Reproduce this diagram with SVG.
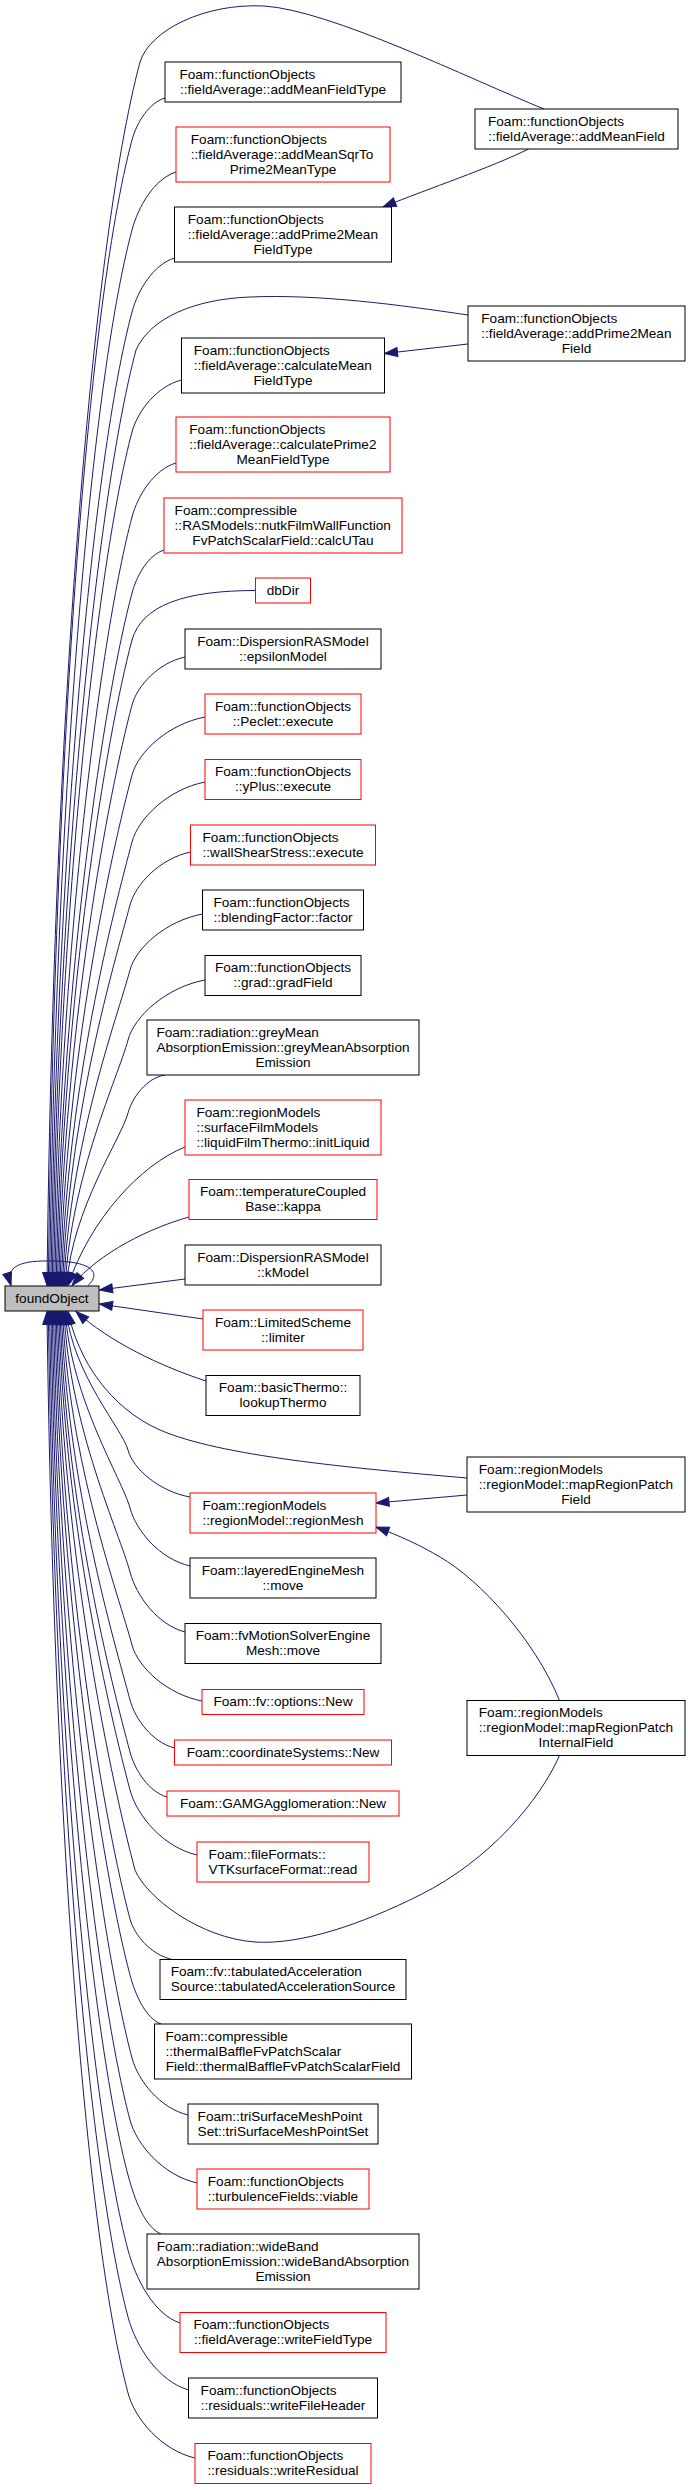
<svg xmlns="http://www.w3.org/2000/svg" width="688" height="2490" viewBox="0 0 688 2490">
<style>
.b{fill:#fff;stroke:#000;stroke-width:1}
.r{fill:#fff;stroke:#f00;stroke-width:1}
.g{fill:#bfbfbf;stroke:#000;stroke-width:1}
text{font-family:"Liberation Sans",Arial,Helvetica,sans-serif;font-size:13.6px;fill:#000}
.m{text-anchor:middle}
#edges path{fill:none;stroke:#191970;stroke-width:1;marker-end:url(#ah)}
</style>
<defs>
<marker id="ah" markerUnits="userSpaceOnUse" markerWidth="14" markerHeight="10" refX="13" refY="4.5" orient="auto" overflow="visible">
<path d="M0,0 L13,4.5 L0,9 z" fill="#191970" stroke="#191970" stroke-width="1"/>
</marker>
</defs>
<rect width="688" height="2490" fill="#fff"/>
<g id="edges">
<path d="M544,109 C470,79 330,10 264,6 C205,3 150,30 140,62 C91.1,245.5 53,735 47,1285.5"/>
<path d="M165,98 C148.5,103 136.5,123.2 132,140 C86.2,311.8 54.3,770 48.3,1285.5"/>
<path d="M176,172 C154,179 138.2,206.8 132,230 C89.8,388.3 55.6,810.5 49.6,1285.5"/>
<path d="M174.5,258 C153.3,264.5 137.8,290.4 132,312 C93.1,458 56.9,847.4 50.9,1285.5"/>
<path d="M468,315 C400,305 320,294 250,297 C195,299 150,318 136,350 C98.6,490.3 58.2,864.5 52.2,1285.5"/>
<path d="M181.5,380 C156.8,386.2 137.6,411.2 132,432 C97.9,560 59.5,901.4 53.5,1285.5"/>
<path d="M176,463 C154,469.5 137.8,495.4 132,517 C101.3,632.3 60.8,939.7 54.8,1285.5"/>
<path d="M164,550 C148,555.2 136.6,575.8 132,593 C104.3,696.9 62.1,973.9 56.1,1285.5"/>
<path d="M255.5,590.5 C185,590.5 142,605 132,640 C106.2,736.8 63.4,995 57.4,1285.5"/>
<path d="M185,657 C158.5,662.8 137.1,685.8 132,705 C108.8,792.1 64.7,1024.3 58.7,1285.5"/>
<path d="M205,717 C168.5,724 138.2,751.8 132,775 C111.6,851.6 66,1055.8 60,1285.5"/>
<path d="M205,782 C168.5,789.2 138.4,818 132,842 C114.3,908.5 67.3,1085.9 61.3,1285.5"/>
<path d="M190.5,852 C160.3,858.4 135.7,883.8 130,905 C114.8,962.1 68.6,1114.3 62.6,1285.5"/>
<path d="M202.5,914 C166.3,920.7 136,947.6 130,970 C117.4,1017.3 69.9,1143.5 63.9,1285.5"/>
<path d="M205,980 C166.5,987.2 134.4,1016 128,1040 C118.2,1076.8 71.2,1175 65.2,1285.5"/>
<path d="M165,1075 C146.5,1077.8 132.1,1097.8 128,1113 C121.1,1138.9 72.5,1207.9 66.5,1285.5"/>
<path d="M185,1147 C140,1165 90,1220 68,1285.5"/>
<path d="M189,1217 C150,1228 100,1252 72,1285.5"/>
<path d="M185,1279 L99.5,1290"/>
<path d="M88,1285.5 C99,1276 98,1262 55,1261 C20,1260 5,1266 11,1285.5"/>
<path d="M203,1319 L99.5,1304"/>
<path d="M206,1381 C160,1366 110,1342 76,1311.5"/>
<path d="M467,1478 C350,1468 220,1456 160,1430 C110,1408 78,1360 68,1311.5"/>
<path d="M190,1497 C159,1491.4 133,1468.8 128,1450 C122.5,1429.2 72.5,1373.8 66.5,1311.5"/>
<path d="M190,1566 C160,1559 136.2,1531.2 130,1508 C122.1,1479 71.2,1399.9 65.2,1311.5"/>
<path d="M185,1632 C157.5,1624.8 136.4,1596 130,1572 C119.6,1532.9 69.9,1428.7 63.9,1311.5"/>
<path d="M202,1701 C167,1694.3 138,1667.4 132,1645 C118.7,1595 68.6,1461.6 62.6,1311.5"/>
<path d="M174.5,1748 C152.3,1742.2 135.1,1719.2 130,1700 C114.5,1641.7 67.3,1486.3 61.3,1311.5"/>
<path d="M167,1797 C148.5,1791.6 134.8,1770 130,1752 C112.4,1685.9 66,1509.7 60,1311.5"/>
<path d="M197,1855 C163.5,1847.2 136.9,1816 130,1790 C110.9,1718.2 64.7,1526.8 58.7,1311.5"/>
<path d="M559.5,1755.5 C540,1800 490,1860 420,1895 C360,1925 300,1945 255,1942 C200,1938 147,1898 135,1870 C112.7,1786.2 63.4,1562.8 57.4,1311.5"/>
<path d="M172,1959.5 C151,1954.6 134.3,1935.2 130,1919 C105.7,1827.9 62.1,1584.9 56.1,1311.5"/>
<path d="M161,2024 C145.5,2018.1 135.2,1994.6 130,1975 C103.5,1875.5 60.8,1610.1 54.8,1311.5"/>
<path d="M188,2115 C160,2108.2 138.1,2080.8 132,2058 C102.1,1946 59.5,1647.4 53.5,1311.5"/>
<path d="M197,2183 C163.5,2175.4 136.7,2145.2 130,2120 C97.7,1998.7 58.2,1675.3 52.2,1311.5"/>
<path d="M161,2234 C144.5,2226.9 134.3,2198.6 128,2175 C93.5,2045.5 56.9,1700.1 50.9,1311.5"/>
<path d="M180,2323 C154,2314.2 135.8,2279.2 128,2250 C90.5,2109.2 55.6,1733.8 49.6,1311.5"/>
<path d="M188.5,2390 C158.3,2381.2 135.8,2346.2 128,2317 C87.8,2166.2 54.3,1764 48.3,1311.5"/>
<path d="M195,2458 C161.5,2450.2 134.9,2419 128,2393 C84.7,2230.8 53,1798.2 47,1311.5"/>
<path d="M528.6,149 C490,168 430,188 383,207"/>
<path d="M468,344 L384.5,353.5"/>
<path d="M467,1495 L376,1503"/>
<path d="M559.5,1700.5 C535,1640 480,1580 440,1557 C420,1545 400,1536 376,1527"/>
</g>
<g id="n_foundObject"><rect class="g" x="5" y="1286" width="94" height="25"/><text class="m" x="52" y="1302.8">foundObject</text></g>
<g id="n_addMeanFieldType"><rect class="b" x="165" y="62" width="236" height="40"/><text x="179.4" y="78.8">Foam::functionObjects</text><text class="m" x="283" y="93.8">::fieldAverage::addMeanFieldType</text></g>
<g id="n_addMeanSqrToPrime2MeanType"><rect class="r" x="176" y="127" width="214" height="55"/><text x="190.8" y="143.8">Foam::functionObjects</text><text x="190.8" y="158.8">::fieldAverage::addMeanSqrTo</text><text class="m" x="283" y="173.8">Prime2MeanType</text></g>
<g id="n_addMeanField"><rect class="b" x="475" y="109" width="203" height="40"/><text x="488" y="125.8">Foam::functionObjects</text><text class="m" x="576.5" y="140.8">::fieldAverage::addMeanField</text></g>
<g id="n_addPrime2MeanFieldType"><rect class="b" x="174.5" y="207" width="217" height="55"/><text x="187.8" y="223.8">Foam::functionObjects</text><text x="187.8" y="238.8">::fieldAverage::addPrime2Mean</text><text class="m" x="283" y="253.8">FieldType</text></g>
<g id="n_addPrime2MeanField"><rect class="b" x="468" y="306" width="217" height="55"/><text x="481.3" y="322.8">Foam::functionObjects</text><text x="481.3" y="337.8">::fieldAverage::addPrime2Mean</text><text class="m" x="576.5" y="352.8">Field</text></g>
<g id="n_calculateMeanFieldType"><rect class="b" x="181.5" y="338" width="203" height="55"/><text x="193.8" y="354.8">Foam::functionObjects</text><text x="193.8" y="369.8">::fieldAverage::calculateMean</text><text class="m" x="283" y="384.8">FieldType</text></g>
<g id="n_calculatePrime2MeanFieldType"><rect class="r" x="176" y="417" width="214" height="55"/><text x="189.3" y="433.8">Foam::functionObjects</text><text x="189.3" y="448.8">::fieldAverage::calculatePrime2</text><text class="m" x="283" y="463.8">MeanFieldType</text></g>
<g id="n_calcUTau"><rect class="r" x="164" y="498" width="238" height="55"/><text x="174.6" y="514.8">Foam::compressible</text><text x="174.6" y="529.8">::RASModels::nutkFilmWallFunction</text><text class="m" x="283" y="544.8">FvPatchScalarField::calcUTau</text></g>
<g id="n_dbDir"><rect class="r" x="255.5" y="578" width="55" height="25"/><text class="m" x="283" y="594.8">dbDir</text></g>
<g id="n_epsilonModel"><rect class="b" x="185" y="629" width="196" height="40"/><text x="197.2" y="645.8">Foam::DispersionRASModel</text><text class="m" x="283" y="660.8">::epsilonModel</text></g>
<g id="n_Peclet_execute"><rect class="r" x="205" y="694" width="156" height="40"/><text x="215" y="710.8">Foam::functionObjects</text><text class="m" x="283" y="725.8">::Peclet::execute</text></g>
<g id="n_yPlus_execute"><rect class="r" x="205" y="759.5" width="156" height="40"/><text x="215" y="776.3">Foam::functionObjects</text><text class="m" x="283" y="791.3">::yPlus::execute</text></g>
<g id="n_wallShearStress_execute"><rect class="r" x="190.5" y="825" width="185" height="40"/><text x="202.5" y="841.8">Foam::functionObjects</text><text class="m" x="283" y="856.8">::wallShearStress::execute</text></g>
<g id="n_blendingFactor_factor"><rect class="b" x="202.5" y="890" width="161" height="40"/><text x="213.5" y="906.8">Foam::functionObjects</text><text class="m" x="283" y="921.8">::blendingFactor::factor</text></g>
<g id="n_grad_gradField"><rect class="b" x="205" y="955.5" width="156" height="40"/><text x="215" y="972.3">Foam::functionObjects</text><text class="m" x="283" y="987.3">::grad::gradField</text></g>
<g id="n_greyMeanAbsorptionEmission"><rect class="b" x="147" y="1020" width="272" height="55"/><text x="156.4" y="1036.8">Foam::radiation::greyMean</text><text x="156.4" y="1051.8">AbsorptionEmission::greyMeanAbsorption</text><text class="m" x="283" y="1066.8">Emission</text></g>
<g id="n_initLiquid"><rect class="r" x="185" y="1100" width="196" height="55"/><text x="196.5" y="1116.8">Foam::regionModels</text><text x="196.5" y="1131.8">::surfaceFilmModels</text><text class="m" x="283" y="1146.8">::liquidFilmThermo::initLiquid</text></g>
<g id="n_kappa"><rect class="r" x="189" y="1179.5" width="188" height="40"/><text x="199.9" y="1196.3">Foam::temperatureCoupled</text><text class="m" x="283" y="1211.3">Base::kappa</text></g>
<g id="n_kModel"><rect class="b" x="185" y="1245" width="196" height="40"/><text x="197.2" y="1261.8">Foam::DispersionRASModel</text><text class="m" x="283" y="1276.8">::kModel</text></g>
<g id="n_limiter"><rect class="r" x="203" y="1310" width="160" height="40"/><text x="215" y="1326.8">Foam::LimitedScheme</text><text class="m" x="283" y="1341.8">::limiter</text></g>
<g id="n_lookupThermo"><rect class="b" x="206" y="1375.5" width="154" height="40"/><text x="218.8" y="1392.3">Foam::basicThermo::</text><text class="m" x="283" y="1407.3">lookupThermo</text></g>
<g id="n_mapRegionPatchField"><rect class="b" x="467" y="1457" width="218" height="55"/><text x="478.8" y="1473.8">Foam::regionModels</text><text x="478.8" y="1488.8">::regionModel::mapRegionPatch</text><text class="m" x="576" y="1503.8">Field</text></g>
<g id="n_regionMesh"><rect class="r" x="190" y="1493" width="186" height="40"/><text x="202.5" y="1509.8">Foam::regionModels</text><text class="m" x="283" y="1524.8">::regionModel::regionMesh</text></g>
<g id="n_layeredEngineMesh_move"><rect class="b" x="190" y="1558" width="186" height="40"/><text x="201.7" y="1574.8">Foam::layeredEngineMesh</text><text class="m" x="283" y="1589.8">::move</text></g>
<g id="n_fvMotionSolverEngineMesh_move"><rect class="b" x="185" y="1623.5" width="196" height="40"/><text x="195.7" y="1640.3">Foam::fvMotionSolverEngine</text><text class="m" x="283" y="1655.3">Mesh::move</text></g>
<g id="n_fv_options_New"><rect class="r" x="202" y="1689.5" width="162" height="25"/><text class="m" x="283" y="1706.3">Foam::fv::options::New</text></g>
<g id="n_coordinateSystems_New"><rect class="r" x="174.5" y="1740" width="217" height="25"/><text class="m" x="283" y="1756.8">Foam::coordinateSystems::New</text></g>
<g id="n_mapRegionPatchInternalField"><rect class="b" x="467" y="1700.5" width="218" height="55"/><text x="478.8" y="1717.3">Foam::regionModels</text><text x="478.8" y="1732.3">::regionModel::mapRegionPatch</text><text class="m" x="576" y="1747.3">InternalField</text></g>
<g id="n_GAMGAgglomeration_New"><rect class="r" x="167" y="1791" width="232" height="25"/><text class="m" x="283" y="1807.8">Foam::GAMGAgglomeration::New</text></g>
<g id="n_VTKsurfaceFormat_read"><rect class="r" x="197" y="1842" width="172" height="40"/><text x="208.6" y="1858.8">Foam::fileFormats::</text><text class="m" x="283" y="1873.8">VTKsurfaceFormat::read</text></g>
<g id="n_tabulatedAccelerationSource"><rect class="b" x="160" y="1959.5" width="246" height="40"/><text x="170.7" y="1976.3">Foam::fv::tabulatedAcceleration</text><text class="m" x="283" y="1991.3">Source::tabulatedAccelerationSource</text></g>
<g id="n_thermalBaffleFvPatchScalarField"><rect class="b" x="154.5" y="2024" width="257" height="55"/><text x="165.5" y="2040.8">Foam::compressible</text><text x="165.5" y="2055.8">::thermalBaffleFvPatchScalar</text><text class="m" x="283" y="2070.8">Field::thermalBaffleFvPatchScalarField</text></g>
<g id="n_triSurfaceMeshPointSet"><rect class="b" x="188" y="2104" width="190" height="40"/><text x="197.6" y="2120.8">Foam::triSurfaceMeshPoint</text><text class="m" x="283" y="2135.8">Set::triSurfaceMeshPointSet</text></g>
<g id="n_turbulenceFields_viable"><rect class="r" x="197" y="2169" width="172" height="40"/><text x="207.8" y="2185.8">Foam::functionObjects</text><text class="m" x="283" y="2200.8">::turbulenceFields::viable</text></g>
<g id="n_wideBandAbsorptionEmission"><rect class="b" x="147" y="2234" width="272" height="55"/><text x="156.8" y="2250.8">Foam::radiation::wideBand</text><text x="156.8" y="2265.8">AbsorptionEmission::wideBandAbsorption</text><text class="m" x="283" y="2280.8">Emission</text></g>
<g id="n_writeFieldType"><rect class="r" x="180" y="2312.5" width="206" height="40"/><text x="193.4" y="2329.3">Foam::functionObjects</text><text class="m" x="283" y="2344.3">::fieldAverage::writeFieldType</text></g>
<g id="n_writeFileHeader"><rect class="b" x="188.5" y="2378" width="189" height="40"/><text x="200.6" y="2394.8">Foam::functionObjects</text><text class="m" x="283" y="2409.8">::residuals::writeFileHeader</text></g>
<g id="n_writeResidual"><rect class="r" x="195" y="2443.5" width="176" height="40"/><text x="207.4" y="2460.3">Foam::functionObjects</text><text class="m" x="283" y="2475.3">::residuals::writeResidual</text></g>
</svg>
